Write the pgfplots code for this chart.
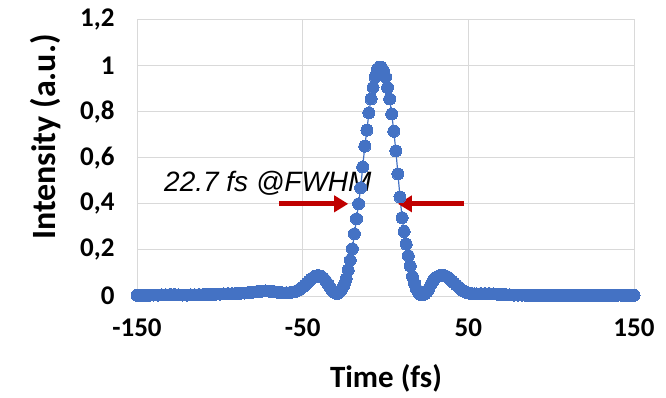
\documentclass[border=0pt]{standalone}
\usepackage{pgfplots}
\pgfplotsset{compat=1.18}
\usepackage{fontspec}
\setmainfont{Carlito}
\newfontfamily\arialfont{Liberation Sans}
\usetikzlibrary{arrows.meta}
\definecolor{exblue}{RGB}{68,114,196}
\definecolor{exred}{RGB}{192,0,0}
\definecolor{gridgray}{RGB}{217,217,217}
\begin{document}
\begin{tikzpicture}
\useasboundingbox (0,0) rectangle (666pt,397pt);
\begin{axis}[
  at={(137pt,101pt)}, anchor=south west,
  scale only axis, width=497pt, height=276.5pt,
  xmin=-150, xmax=150, ymin=0, ymax=1.2,
  xtick={-150,-50,50,150}, xticklabels={-150,-50,50,150},
  ytick={0,0.2,0.4,0.6,0.8,1,1.2},
  yticklabels={0,{0,2},{0,4},{0,6},{0,8},1,{1,2}},
  major tick length=0pt,
  grid=major, major grid style={gridgray, line width=1pt},
  axis line style={gridgray, line width=1pt},
  tick label style={font=\fontsize{27}{30}\selectfont\bfseries},
  yticklabel style={anchor=east, xshift=-19pt},
  xticklabel style={anchor=north, yshift=-19pt},
  xlabel={Time (fs)}, ylabel={Intensity (a.u.)},
  xlabel style={font=\fontsize{31}{34}\selectfont\bfseries, at={(axis description cs:0.501,-0.297)}, anchor=center},
  ylabel style={font=\fontsize{34}{38}\selectfont\bfseries, at={(axis description cs:-0.185,0.575)}, anchor=center, rotate=0},
  clip=false,
]
\addplot[exblue, line width=1.2pt, mark=*, mark size=6pt, mark options={exblue, draw=exblue, fill=exblue, line width=0pt}] coordinates {
(-150,0.003) (-147.5,0.003) (-145,0.003) (-142.5,0.003) (-140,0.004) (-137.5,0.004)
(-135,0.005) (-132.5,0.005) (-130,0.006) (-127.5,0.006) (-125,0.005) (-122.5,0.004)
(-120,0.004) (-117.5,0.005) (-115,0.005) (-112.5,0.006) (-110,0.006) (-107.5,0.007)
(-105,0.007) (-102.5,0.008) (-100,0.008) (-97.5,0.009) (-95,0.010) (-92.5,0.010)
(-90,0.011) (-87.5,0.012) (-85,0.013) (-82.5,0.015) (-80,0.017) (-77.5,0.019)
(-75,0.021) (-72.5,0.022) (-70,0.021) (-67.5,0.019) (-65,0.016) (-62.5,0.014)
(-60,0.014) (-57.5,0.015) (-55,0.018)
(-53.75,0.021) (-52.5,0.026) (-51.25,0.032) (-50,0.039) (-48.75,0.047) (-47.5,0.056)
(-46.25,0.065) (-45,0.073) (-43.75,0.080) (-42.5,0.085) (-41.25,0.088) (-40,0.088)
(-38.75,0.085) (-37.5,0.078) (-36.25,0.068) (-35,0.055) (-33.75,0.040) (-32.5,0.027)
(-31.25,0.017) (-30,0.012) (-28.75,0.012) (-27.5,0.020) (-26.25,0.032) (-25,0.048)
(-23.75,0.075) (-22.5,0.112) (-21.25,0.155) (-20,0.205) (-18.75,0.270) (-17.5,0.335)
(-16.25,0.400) (-15,0.470) (-13.75,0.560) (-12.5,0.650) (-11.25,0.720) (-10,0.795)
(-8.75,0.855) (-7.5,0.905) (-6.25,0.950) (-5,0.980) (-3.75,0.993) (-2.5,0.993)
(-1.25,0.978) (0,0.950) (1.25,0.905) (2.5,0.855) (3.75,0.790) (5,0.715)
(6.25,0.630) (7.5,0.530) (8.75,0.430) (10,0.340) (11.25,0.280) (12.5,0.225)
(13.75,0.175) (15,0.130) (16.25,0.085) (17.5,0.055) (18.75,0.030) (20,0.014)
(21.25,0.006) (22.5,0.005) (23.75,0.009) (25,0.018) (26.25,0.032) (27.5,0.050)
(28.75,0.066) (30,0.077) (31.25,0.084) (32.5,0.088) (33.75,0.090) (35,0.090)
(36.25,0.087) (37.5,0.082) (38.75,0.075) (40,0.066) (41.25,0.058) (42.5,0.049)
(43.75,0.041) (45,0.033) (46.25,0.026) (47.5,0.020) (48.75,0.016) (50,0.013)
(51.25,0.011) (52.5,0.010) (53.75,0.009) (55,0.009)
(57.5,0.010) (60,0.010) (62.5,0.010) (65,0.009) (67.5,0.008) (70,0.007)
(72.5,0.006) (75,0.005) (77.5,0.004) (80,0.004) (82.5,0.004) (85,0.003)
(87.5,0.003) (90,0.003) (92.5,0.003) (95,0.003) (97.5,0.003) (100,0.003)
(102.5,0.003) (105,0.003) (107.5,0.003) (110,0.003) (112.5,0.003) (115,0.003)
(117.5,0.003) (120,0.003) (122.5,0.003) (125,0.003) (127.5,0.003) (130,0.003)
(132.5,0.003) (135,0.003) (137.5,0.003) (140,0.003) (142.5,0.003) (145,0.003)
(147.5,0.003) (150,0.003)
};
\draw[exred, line width=5pt, -{Triangle[length=14pt, width=16pt]}] (axis cs:-64,0.4) -- (axis cs:-22.5,0.4);
\draw[exred, line width=5pt, -{Triangle[length=14pt, width=16pt]}] (axis cs:47.5,0.4) -- (axis cs:7.5,0.4);
\node[anchor=base, inner sep=0pt, font=\fontsize{28}{32}\selectfont\arialfont\itshape] at (axis cs:-71,0.452) {22.7 fs @FWHM};
\end{axis}
\end{tikzpicture}
\end{document}
